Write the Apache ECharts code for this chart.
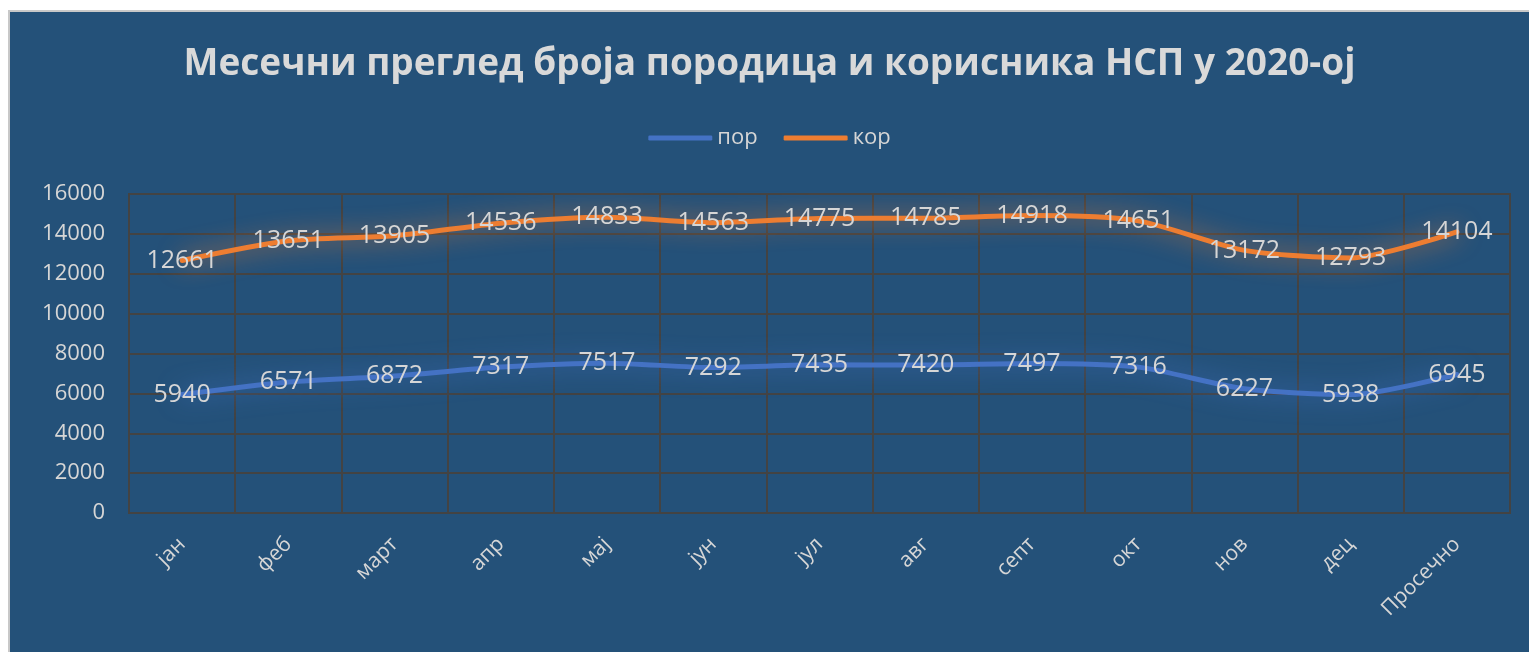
<!DOCTYPE html>
<html>
<head>
<meta charset="utf-8">
<script src="https://cdn.jsdelivr.net/npm/echarts@6/dist/echarts.min.js"></script>
<style>
html,body{margin:0;padding:0;background:#fff;width:1529px;height:652px;overflow:hidden;}
#panel{position:absolute;left:8px;top:10px;width:1521px;height:642px;background:#245179;border-left:2px solid #c8c8c8;border-top:2px solid #c8c8c8;box-sizing:border-box;}
#chart{width:100%;height:100%;}
</style>
</head>
<body>
<div id="panel"><div id="chart"></div></div>
<script>
const categories = ['јан','феб','март','апр','мај','јун','јул','авг','септ','окт','нов','дец','Просечно'];
const porValues = [5940,6571,6872,7317,7517,7292,7435,7420,7497,7316,6227,5938,6945];
const korValues = [12661,13651,13905,14536,14833,14563,14775,14785,14918,14651,13172,12793,14104];
const yTicks = {min:0, max:16000, interval:2000};

const labelColor = '#d6d6d6';
const gridColor = '#434343';
const chart = echarts.init(document.getElementById('chart'));
function lineSeries(name, data, color){
  return {
    name: name, type:'line', data: data, smooth: 0.25,
    symbol:'circle', symbolSize: 2, showSymbol: true,
    itemStyle:{color: color},
    lineStyle:{width:5, color: color, shadowColor: color, shadowBlur: 24, cap:'round'},
    label:{show:true, position:'inside', color: labelColor, fontSize: 25, fontFamily:'Open Sans'},
    emphasis:{disabled:true}
  };
}
chart.setOption({
  animation:false,
  backgroundColor:'transparent',
  title:{
    text:'Месечни преглед броја породица и корисника НСП у 2020-ој',
    left:'center', top:29,
    textStyle:{color:'#d9d9d9', fontSize:37, fontWeight:'bold', fontFamily:'Open Sans'}
  },
  legend:{
    top:110, left:'center', itemWidth:64, itemHeight:5, itemGap:26,
    icon:'roundRect',
    textStyle:{color:labelColor, fontSize:22, fontFamily:'Open Sans'},
    data:['пор','кор']
  },
  grid:{left:119, right:19, top:182, bottom:139, show:true, borderColor:gridColor, borderWidth:2},
  xAxis:{
    type:'category', data: categories, boundaryGap:true,
    axisLine:{lineStyle:{color:gridColor, width:2}},
    axisTick:{show:false},
    splitLine:{show:true, lineStyle:{color:gridColor, width:2}},
    axisLabel:{color:labelColor, fontSize:21, fontFamily:'Open Sans', rotate:45, margin:28, interval:0}
  },
  yAxis:{
    type:'value', min:yTicks.min, max:yTicks.max, interval:yTicks.interval,
    axisLine:{show:false}, axisTick:{show:false},
    splitLine:{lineStyle:{color:gridColor, width:2}},
    axisLabel:{color:labelColor, fontSize:22, fontFamily:'Open Sans', margin:24, formatter: v => String(v)}
  },
  series:[ lineSeries('пор', porValues, '#4472C4'), lineSeries('кор', korValues, '#ED7D31') ]
});
</script>
</body>
</html>
